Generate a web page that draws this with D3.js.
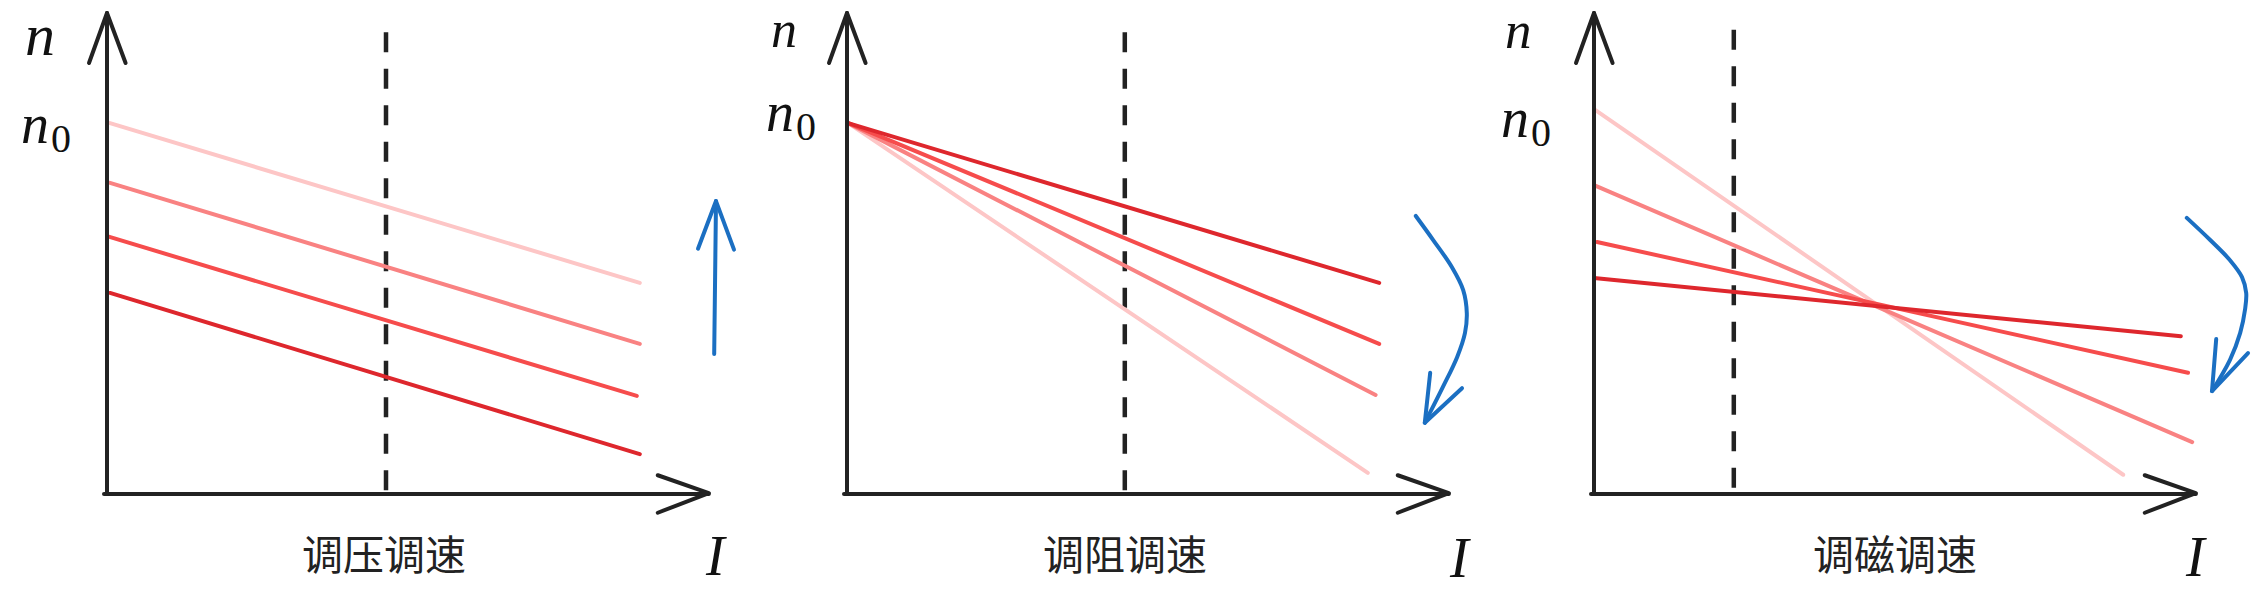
<!DOCTYPE html>
<html><head><meta charset="utf-8">
<script src="https://cdn.jsdelivr.net/npm/d3@7"></script>
<style>html,body{margin:0;padding:0;background:#fff;}svg{display:block;}</style>
</head><body>
<svg id="chart" width="2261" height="594"></svg>
<script>
// ---------------- data ----------------
const categories = ["调压调速", "调阻调速", "调磁调速"];
const seriesNames = ["s1", "s2", "s3", "s4"]; // lightest -> darkest
// Each line: [I_start, n_start, I_end, n_end] (arbitrary units, I and n in 0..10)
const linesVoltage = [
  [0.05, 7.71, 8.88, 4.39],
  [0.05, 6.47, 8.88, 3.12],
  [0.0, 5.36, 8.83, 2.04],
  [0.05, 4.18, 8.88, 0.83]
];
const linesResistance = [
  [0.02, 7.71, 8.68, 0.44],
  [0.02, 7.71, 8.81, 2.06],
  [0.02, 7.71, 8.87, 3.12],
  [0.02, 7.71, 8.87, 4.39]
];
const linesFlux = [
  [0.0, 8.00, 8.82, 0.40],
  [0.0, 6.42, 9.97, 1.08],
  [0.05, 5.24, 9.90, 2.52],
  [0.0, 4.49, 9.78, 3.28]
];
const dashedI = [4.65, 4.63, 2.33];
const dashedTop = [9.6, 9.6, 9.65];
// blue hint arrows: shaft points and arrowhead arms (I, n)
const arrowVoltage = [[10.12, 2.91], [10.15, 6.09]];
const arrowVoltageHead = [[9.85, 5.1], [10.15, 6.09], [10.45, 5.08]];
const arrowResistance = [[9.48, 5.78], [9.77, 5.28], [10.08, 4.72], [10.27, 4.24], [10.33, 3.76], [10.30, 3.35], [10.17, 2.85], [9.93, 2.22], [9.63, 1.48]];
const arrowResistanceHead = [[9.72, 2.52], [9.63, 1.48], [10.25, 2.20]];
const arrowFlux = [[9.88, 5.74], [10.27, 5.28], [10.60, 4.86], [10.80, 4.51], [10.87, 4.18], [10.85, 3.83], [10.77, 3.35], [10.60, 2.79], [10.30, 2.14]];
const arrowFluxHead = [[10.37, 3.22], [10.30, 2.14], [10.90, 2.93]];
const axisLabels = { y: "n", y0: "n", y0sub: "0", x: "I" };

// ---------------- layout / style ----------------
const colors = ["#fdc6c6", "#f98282", "#f64c4c", "#de272d"];
const blue = "#1b6fc2";
const ink = "#222";
const panels = [
  { x0: 107, lines: linesVoltage, arrow: arrowVoltage, head: arrowVoltageHead, curve: d3.curveLinear,
    nPos: [25, 55], nSize: 60, n0Pos: [21, 143], labelX: 384, IPos: [706, 575] },
  { x0: 847, lines: linesResistance, arrow: arrowResistance, head: arrowResistanceHead, curve: d3.curveCatmullRom,
    nPos: [771, 47], nSize: 52, n0Pos: [766, 131], labelX: 1125, IPos: [1450, 577] },
  { x0: 1594, lines: linesFlux, arrow: arrowFlux, head: arrowFluxHead, curve: d3.curveCatmullRom,
    nPos: [1505, 48], nSize: 53, n0Pos: [1501, 137], labelX: 1895, IPos: [2186, 576] }
];
const yTop = 13, yBase = 494, xLen = 600;

const svg = d3.select("#chart");
const y = d3.scaleLinear().domain([0, 10]).range([yBase, yTop]);

panels.forEach((p, i) => {
  const x = d3.scaleLinear().domain([0, 10]).range([p.x0, p.x0 + xLen]);
  const g = svg.append("g");
  const line = d3.line().x(d => x(d[0])).y(d => y(d[1]));

  // dashed reference line
  g.append("path")
    .attr("d", line([[dashedI[i], dashedTop[i]], [dashedI[i], 0]]))
    .attr("fill", "none").attr("stroke", ink).attr("stroke-width", 4.5)
    .attr("stroke-dasharray", "20 16.5");

  // characteristic lines (lightest first)
  g.selectAll("path.series").data(p.lines).enter().append("path")
    .attr("class", "series")
    .attr("d", d => line([[d[0], d[1]], [d[2], d[3]]]))
    .attr("fill", "none")
    .attr("stroke", (d, k) => colors[k])
    .attr("stroke-width", 4)
    .attr("stroke-linecap", "round");

  // axes
  g.append("path").attr("d", line([[-0.05, 0], [10.03, 0]]))
    .attr("stroke", ink).attr("stroke-width", 4).attr("fill", "none").attr("stroke-linecap", "round");
  g.append("path").attr("d", line([[0, 0], [0, 10]]))
    .attr("stroke", ink).attr("stroke-width", 4).attr("fill", "none").attr("stroke-linecap", "round");
  // arrowheads
  g.append("path").attr("d", line([[-0.30, 8.96], [0, 10], [0.31, 8.96]]))
    .attr("stroke", ink).attr("stroke-width", 4).attr("fill", "none")
    .attr("stroke-linecap", "round").attr("stroke-linejoin", "round");
  g.append("path").attr("d", line([[9.18, 0.39], [10.03, 0.02], [9.18, -0.39]]))
    .attr("stroke", ink).attr("stroke-width", 4).attr("fill", "none")
    .attr("stroke-linecap", "round").attr("stroke-linejoin", "round");

  // blue hint arrow
  const curveLine = d3.line().x(d => x(d[0])).y(d => y(d[1])).curve(p.curve);
  g.append("path").attr("d", curveLine(p.arrow))
    .attr("fill", "none").attr("stroke", blue).attr("stroke-width", 4).attr("stroke-linecap", "round");
  g.append("path").attr("d", line(p.head))
    .attr("fill", "none").attr("stroke", blue).attr("stroke-width", 4)
    .attr("stroke-linecap", "round").attr("stroke-linejoin", "round");

  // labels
  g.append("text").attr("x", p.nPos[0]).attr("y", p.nPos[1])
    .attr("font-family", "'Liberation Serif','DejaVu Serif',serif").attr("font-style", "italic")
    .attr("font-size", p.nSize).attr("fill", "#111").text(axisLabels.y);
  const t0 = g.append("text").attr("x", p.n0Pos[0]).attr("y", p.n0Pos[1])
    .attr("font-family", "'Liberation Serif','DejaVu Serif',serif").attr("fill", "#111");
  t0.append("tspan").attr("font-style", "italic").attr("font-size", 56).text(axisLabels.y0);
  t0.append("tspan").attr("font-size", 40).attr("dy", 9).attr("dx", 2).text(axisLabels.y0sub);
  g.append("text").attr("x", p.IPos[0]).attr("y", p.IPos[1])
    .attr("font-family", "'Liberation Serif','DejaVu Serif',serif").attr("font-style", "italic")
    .attr("font-size", 56).attr("fill", "#111").text(axisLabels.x);
  g.append("text").attr("x", p.labelX).attr("y", 570).attr("text-anchor", "middle")
    .attr("font-family", "'Noto Sans CJK SC',sans-serif").attr("font-size", 41)
    .attr("fill", "#222").text(categories[i]);
});
</script>
</body></html>
